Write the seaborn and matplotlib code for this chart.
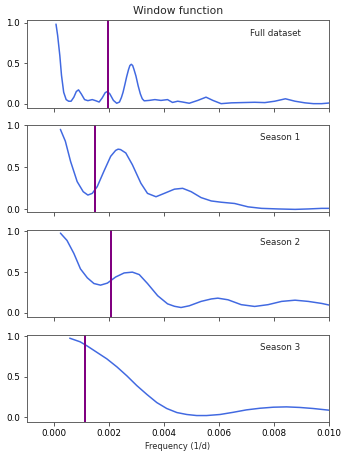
import pandas as pd
import seaborn as sns
import matplotlib
matplotlib.use("Agg")
import matplotlib.pyplot as plt

# window function values
full_freq = [0.00006, 0.00012, 0.0002, 0.00026, 0.00034, 0.00043, 0.00052, 0.00061,
             0.00071, 0.0008, 0.00088, 0.00098, 0.0011, 0.00122, 0.00138, 0.0015,
             0.00163, 0.00174, 0.00185, 0.00193, 0.00202, 0.00215, 0.00227, 0.00237,
             0.00244, 0.0025, 0.00257, 0.00263, 0.0027, 0.00275, 0.0028, 0.00285,
             0.0029, 0.00297, 0.00305, 0.00313, 0.0032, 0.00327, 0.00345, 0.00366,
             0.00388, 0.00412, 0.0043, 0.00449, 0.00467, 0.00491, 0.00522, 0.00552,
             0.00577, 0.00607, 0.00644, 0.0068, 0.00729, 0.00766, 0.00802, 0.00841,
             0.00876, 0.00912, 0.00943, 0.00973, 0.01007]
full_power = [0.98, 0.84, 0.59, 0.35, 0.14, 0.05, 0.03, 0.03,
              0.08, 0.15, 0.17, 0.12, 0.05, 0.037, 0.05, 0.037,
              0.02, 0.07, 0.135, 0.15, 0.12, 0.04, 0.005, 0.02,
              0.075, 0.14, 0.24, 0.33, 0.42, 0.47, 0.485, 0.47,
              0.42, 0.34, 0.22, 0.12, 0.06, 0.035, 0.04, 0.05,
              0.04, 0.05, 0.015, 0.03, 0.02, 0.005, 0.04, 0.08,
              0.04, 0.0, 0.01, 0.013, 0.017, 0.013, 0.03, 0.06,
              0.03, 0.01, 0.0, 0.0, 0.01]

s1_freq = [0.00022, 0.0004, 0.00059, 0.00083, 0.00105, 0.00122, 0.00138, 0.00156,
           0.0018, 0.00205, 0.00223, 0.00232, 0.00241, 0.0026, 0.00284, 0.00315,
           0.00339, 0.0037, 0.004, 0.00437, 0.00467, 0.00498, 0.00534, 0.00571,
           0.00607, 0.00656, 0.00705, 0.00754, 0.00815, 0.00876, 0.00924, 0.00973,
           0.01007]
s1_power = [0.95, 0.81, 0.57, 0.33, 0.21, 0.17, 0.19, 0.27,
            0.45, 0.63, 0.70, 0.715, 0.71, 0.67, 0.53, 0.31,
            0.19, 0.15, 0.19, 0.24, 0.25, 0.21, 0.14, 0.10,
            0.085, 0.07, 0.03, 0.012, 0.005, 0.0, 0.005, 0.012,
            0.012]

s2_freq = [0.00022, 0.00046, 0.00071, 0.00095, 0.0012, 0.00144, 0.00168, 0.00193,
           0.00223, 0.00254, 0.00284, 0.00309, 0.00339, 0.00376, 0.00412, 0.00437,
           0.00461, 0.00491, 0.00534, 0.00571, 0.00595, 0.00632, 0.0068, 0.00729,
           0.00778, 0.00827, 0.00876, 0.00924, 0.00973, 0.01007]
s2_power = [0.98, 0.89, 0.73, 0.54, 0.43, 0.36, 0.34, 0.365,
            0.44, 0.49, 0.50, 0.47, 0.36, 0.21, 0.11, 0.08,
            0.065, 0.086, 0.14, 0.17, 0.18, 0.16, 0.10, 0.078,
            0.10, 0.14, 0.155, 0.14, 0.115, 0.09]

s3_freq = [0.00056, 0.00094, 0.00119, 0.00155, 0.00191, 0.00228, 0.00264, 0.003,
           0.00337, 0.00373, 0.00409, 0.00446, 0.00482, 0.00518, 0.00554, 0.00603,
           0.00651, 0.00699, 0.00748, 0.00797, 0.00845, 0.00893, 0.00942, 0.01]
s3_power = [0.975, 0.93, 0.88, 0.80, 0.72, 0.62, 0.51, 0.39,
            0.28, 0.18, 0.107, 0.057, 0.033, 0.02, 0.02, 0.033,
            0.06, 0.09, 0.11, 0.123, 0.127, 0.12, 0.107, 0.086]

labels = ["Full dataset", "Season 1", "Season 2", "Season 3"]
marker_freq = [0.00195, 0.00147, 0.00207, 0.00113]

sns.set_style("ticks")
plt.rcParams["font.family"] = ["DejaVu Sans"]

fig, axes = plt.subplots(4, 1, figsize=(349 / 72, 455 / 72), dpi=72, sharex=True)
fig.subplots_adjust(left=0.077, right=0.943, top=0.955, bottom=0.073, hspace=0.2)

curves = [(full_freq, full_power), (s1_freq, s1_power), (s2_freq, s2_power), (s3_freq, s3_power)]
ylims = [(-0.05, 1.025), (-0.036, 0.99), (-0.053, 1.02), (-0.057, 1.02)]

for ax, (f, p), lab, fm, yl in zip(axes, curves, labels, marker_freq, ylims):
    df = pd.DataFrame({"freq": f, "power": p})
    sns.lineplot(data=df, x="freq", y="power", ax=ax, color="royalblue", lw=1.5)
    ax.axvline(fm, color="purple", lw=2)
    ax.text(0.905, 0.855, lab, transform=ax.transAxes, ha="right", va="center", fontsize=8.8)
    ax.set_xlim(-0.001, 0.010)
    ax.set_ylim(*yl)
    ax.set_yticks([0.0, 0.5, 1.0])
    ax.set_ylabel("")
    ax.set_xlabel("")
    ax.tick_params(labelsize=8.7, color="#333333", labelcolor="black")
    for sp in ax.spines.values():
        sp.set_color("#555555")
        sp.set_linewidth(0.9)

axes[-1].set_xticks([0.000, 0.002, 0.004, 0.006, 0.008, 0.010])
axes[-1].set_xticklabels(["0.000", "0.002", "0.004", "0.006", "0.008", "0.010"])
axes[-1].set_xlabel("Frequency (1/d)", fontsize=8.3)
axes[0].set_title("Window function", fontsize=10.8)

fig.savefig("out.png", dpi=72)
